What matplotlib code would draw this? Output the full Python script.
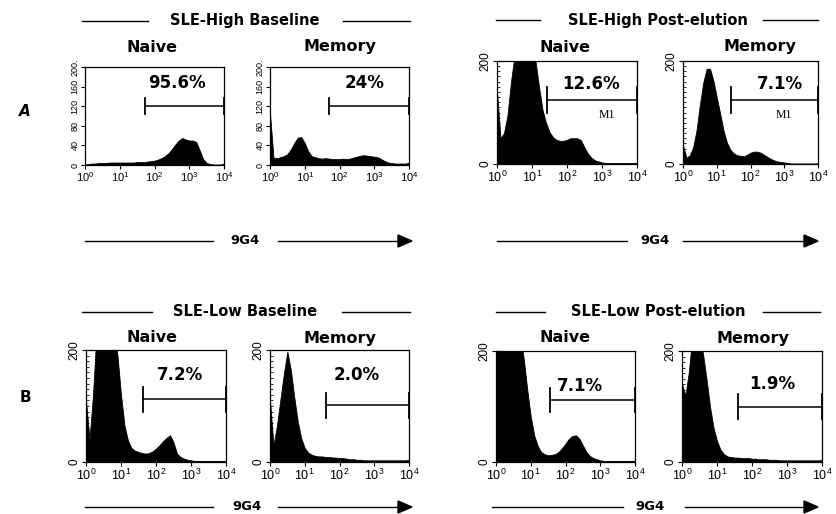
import numpy as np
import matplotlib
matplotlib.use("Agg")
import matplotlib.pyplot as plt
from matplotlib.lines import Line2D
from matplotlib.ticker import LogLocator, MultipleLocator, NullFormatter

plt.rcParams["mathtext.fontset"] = "custom"
plt.rcParams["mathtext.rm"] = "Liberation Sans"
plt.rcParams["mathtext.it"] = "Liberation Sans"
plt.rcParams["font.family"] = ["Liberation Sans", "DejaVu Sans"]

# ---------------- data (log10 fluorescence channel grid, counts) ----------------
log_channel = np.round(np.arange(0, 41) * 0.1, 1)   # 10^0 ... 10^4

high_base_naive = [1, 2, 3, 3, 4, 4, 4, 5, 5, 5, 5, 5, 5, 5, 5, 6, 6, 6, 7, 8,
                   9, 11, 14, 18, 24, 32, 42, 50, 55, 52, 50, 50, 47, 30, 12, 4, 2, 1, 1, 1, 3]
high_base_memory = [105, 15, 14, 16, 18, 22, 32, 45, 56, 57, 45, 28, 18, 16, 14, 13, 14, 13, 12, 12,
                    12, 13, 12, 13, 15, 17, 19, 20, 19, 18, 17, 16, 12, 8, 5, 4, 3, 3, 3, 3, 5]
high_post_naive = [140, 50, 60, 95, 160, 210, 250, 260, 260, 250, 230, 200, 150, 105, 80, 62, 52, 47, 45, 45,
                   47, 50, 50, 50, 46, 32, 20, 12, 7, 5, 3, 2, 2, 2, 2, 2, 2, 2, 2, 2, 2]
high_post_memory = [37, 12, 17, 32, 65, 115, 158, 185, 185, 162, 130, 98, 65, 42, 28, 21, 17, 16, 15, 18,
                    22, 24, 24, 22, 18, 14, 10, 7, 5, 4, 3, 2, 1, 1, 1, 1, 1, 1, 1, 1, 1]
low_base_naive = [110, 40, 120, 230, 280, 300, 290, 260, 230, 190, 120, 65, 38, 25, 20, 18, 16, 15, 16, 19,
                  24, 30, 37, 43, 48, 35, 15, 9, 6, 4, 3, 2, 2, 2, 2, 2, 2, 2, 2, 2, 2]
low_base_memory = [110, 30, 65, 112, 158, 197, 164, 115, 72, 42, 25, 17, 13, 11, 10, 10, 9, 9, 8, 8,
                   7, 7, 6, 5, 5, 4, 4, 3, 3, 3, 3, 3, 3, 3, 3, 3, 3, 3, 3, 3, 4]
low_post_naive = [260, 280, 300, 300, 290, 280, 260, 230, 185, 130, 82, 48, 29, 18, 14, 12, 13, 14, 18, 25,
                  33, 42, 47, 48, 42, 30, 18, 11, 7, 5, 3, 2, 2, 2, 2, 2, 2, 2, 2, 2, 2]
low_post_memory = [140, 120, 165, 230, 240, 225, 195, 150, 100, 62, 38, 22, 14, 10, 9, 8, 8, 7, 7, 7,
                   6, 6, 5, 5, 5, 4, 4, 4, 3, 3, 3, 3, 3, 3, 3, 3, 3, 3, 3, 3, 4]

percent_labels = ["95.6%", "24%", "12.6%", "7.1%", "7.2%", "2.0%", "7.1%", "1.9%"]
gate_start_log = [1.73, 1.69, 1.42, 1.415, 1.64, 1.61, 1.55, 1.60]
gate_level = [120, 120, 124, 125, 112, 101, 112, 100]
x_tick_labels = ["$10^{0}$", "$10^{1}$", "$10^{2}$", "$10^{3}$", "$10^{4}$"]

group_titles = ["SLE-High Baseline", "SLE-High Post-elution", "SLE-Low Baseline", "SLE-Low Post-elution"]
subset_titles = ["Naive", "Memory"]

# ---------------- layout ----------------
W, H = 836, 514
fig = plt.figure(figsize=(W / 100, H / 100), dpi=100)


def fx(px):
    return px / W


def fy(py):
    return 1 - py / H


def box(x0, y0, x1, y1):
    return [x0 / W, 1 - y1 / H, (x1 - x0) / W, (y1 - y0) / H]


panels = [
    dict(data=high_base_naive, pos=box(85, 67, 224, 165), style="base", lab=(2.65, 167), tick=16, m1=None),
    dict(data=high_base_memory, pos=box(270, 67, 409, 165), style="base", lab=(2.73, 167), tick=16, m1=None),
    dict(data=high_post_naive, pos=box(497, 61, 637, 164), style="post", lab=(2.70, 156), tick=25, m1=(3.14, 95)),
    dict(data=high_post_memory, pos=box(683, 61, 818, 164), style="post", lab=(2.87, 156), tick=25, m1=(3.0, 95)),
    dict(data=low_base_naive, pos=box(86, 350, 226, 462), style="post", lab=(2.69, 155), tick=22, m1=None),
    dict(data=low_base_memory, pos=box(270, 350, 409, 462), style="post", lab=(2.49, 155), tick=22, m1=None),
    dict(data=low_post_naive, pos=box(496, 351, 635, 462), style="post", lab=(2.42, 137), tick=22, m1=None),
    dict(data=low_post_memory, pos=box(682, 351, 822, 462), style="post", lab=(2.57, 140), tick=22, m1=None),
]

x_vals = 10.0 ** log_channel
for i, p in enumerate(panels):
    ax = fig.add_axes(p["pos"])
    ax.fill_between(x_vals, np.asarray(p["data"], float), color="black", lw=0.6, edgecolor="black")
    ax.set_xscale("log")
    ax.set_xlim(1, 1e4)
    ax.set_ylim(0, 200)
    for s in ax.spines.values():
        s.set_linewidth(0.9)
    ax.set_xticks(10.0 ** np.arange(5), labels=x_tick_labels)
    ax.xaxis.set_minor_locator(LogLocator(base=10, subs=np.arange(2, 10)))
    ax.xaxis.set_minor_formatter(NullFormatter())
    if p["style"] == "base":
        ax.set_yticks([0, 40, 80, 120, 160, 200])
        ax.set_yticklabels(["0", "40", "80", "120", "160", "200."], rotation=90, va="center", fontsize=6.5)
        xfs = 8
    else:
        ax.set_yticks([0, 200])
        ax.set_yticklabels(["0", "200"], rotation=90, va="center", fontsize=8.5)
        ax.yaxis.set_minor_locator(MultipleLocator(10))
        xfs = 9
    ax.tick_params(axis="x", which="major", direction="out", length=3, width=0.8, labelsize=xfs, pad=1)
    ax.tick_params(axis="x", which="minor", direction="in", length=2.5, width=0.6)
    ax.tick_params(axis="y", which="major", direction="out", length=3, width=0.8, pad=1)
    ax.tick_params(axis="y", which="minor", direction="in", length=2.5, width=0.6)

    # gate marker
    g0 = 10.0 ** gate_start_log[i]
    lv = gate_level[i]
    ax.plot([g0, 1e4], [lv, lv], color="black", lw=1.1, clip_on=False)
    ax.plot([g0, g0], [lv - p["tick"], lv + p["tick"]], color="black", lw=1.3)
    ax.plot([1e4, 1e4], [lv - p["tick"], lv + p["tick"]], color="black", lw=1.3, clip_on=False)
    ax.text(10.0 ** p["lab"][0], p["lab"][1], percent_labels[i], ha="center", va="center",
            fontsize=12, fontweight="bold", family="DejaVu Sans")
    if p["m1"] is not None:
        ax.text(10.0 ** p["m1"][0], p["m1"][1], "M1", ha="center", va="center",
                fontsize=8.5, family="Liberation Serif")

# ---------------- group titles with flanking lines ----------------
title_specs = [
    (group_titles[0], 245, 21, (82, 148), (343, 410)),
    (group_titles[1], 658, 20, (496, 540), (763, 818)),
    (group_titles[2], 245, 312, (82, 152), (342, 410)),
    (group_titles[3], 658, 312, (496, 545), (763, 820)),
]
for txt, cx, cy, l1, l2 in title_specs:
    fig.text(fx(cx), fy(cy), txt, ha="center", va="center", fontsize=10.5, fontweight="bold",
             family="DejaVu Sans")
    for a, b in (l1, l2):
        fig.add_artist(Line2D([fx(a), fx(b)], [fy(cy), fy(cy)], color="black", lw=1.0))

sub_specs = [(152, 47), (340, 47), (565, 47), (760, 47), (152, 338), (340, 338), (565, 338), (753, 338)]
for k, (cx, cy) in enumerate(sub_specs):
    fig.text(fx(cx), fy(cy), subset_titles[k % 2], ha="center", va="center", fontsize=11.5,
             fontweight="bold", family="DejaVu Sans")

fig.text(fx(25), fy(112), "A", ha="center", va="center", fontsize=11, fontweight="bold",
         family="DejaVu Sans", style="italic")
fig.text(fx(25), fy(397), "B", ha="center", va="center", fontsize=11, fontweight="bold",
         family="DejaVu Sans")

# ---------------- 9G4 arrows ----------------
arrow_specs = [
    (245, 241, (85, 213), (278, 412)),
    (655, 241, (497, 627), (683, 818)),
    (247, 507, (85, 213), (278, 412)),
    (650, 507, (492, 623), (685, 818)),
]
for cx, cy, seg1, seg2 in arrow_specs:
    fig.text(fx(cx), fy(cy), "9G4", ha="center", va="center", fontsize=9.5, fontweight="bold",
             family="DejaVu Sans")
    fig.add_artist(Line2D([fx(seg1[0]), fx(seg1[1])], [fy(cy), fy(cy)], color="black", lw=1.0))
    fig.add_artist(Line2D([fx(seg2[0]), fx(seg2[1] - 10)], [fy(cy), fy(cy)], color="black", lw=1.0))
    fig.patches.append(plt.Polygon([[fx(seg2[1] - 14), fy(cy - 6)], [fx(seg2[1] - 14), fy(cy + 6)],
                                    [fx(seg2[1]), fy(cy)]], closed=True, color="black",
                                   transform=fig.transFigure, figure=fig))

fig.savefig("out.png", dpi=100)
